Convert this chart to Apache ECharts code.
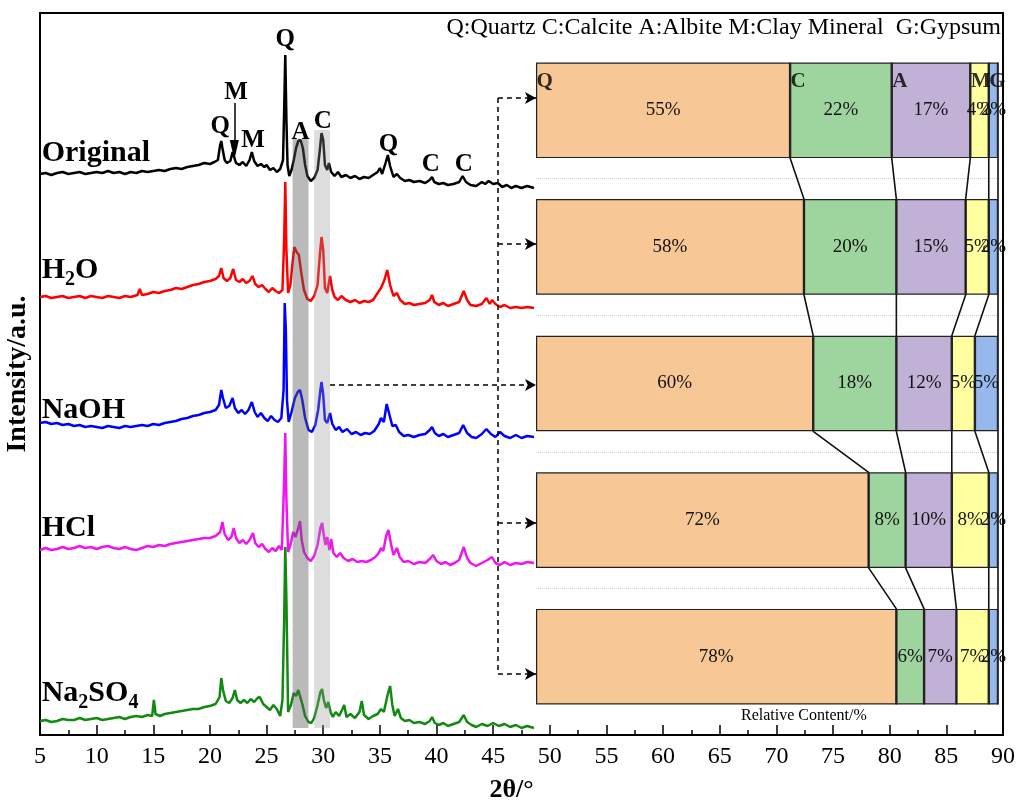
<!DOCTYPE html>
<html>
<head>
<meta charset="utf-8">
<script src="https://cdn.jsdelivr.net/npm/echarts@6/dist/echarts.min.js"></script>
<style>
html,body{margin:0;padding:0;background:#fff}
#chart{width:1020px;height:808px}
</style>
</head>
<body>
<div id="chart"></div>
<script>
// ---------- XRD patterns (2θ in degrees, intensity in a.u. before stacking offset) ----------
const xrdOriginal = [[5.0,21],[5.5,22],[6.0,20],[6.5,22],[7.0,23],[7.5,21],[8.0,22],[8.5,23],[9.0,21],[9.5,22],[10,23],[10.5,22],[11,24],[11.5,22],[12,23],[12.5,21],[13,23],[13.5,22],[14,24],[14.5,23],[15,24],[15.5,25],[16,24],[16.5,26],[17,27],[17.5,26],[18,28],[18.5,29],[19,30],[19.5,32],[20,31],[20.4,33],[20.7,35],[20.9,50],[21.0,54],[21.1,47],[21.3,35],[21.5,32],[21.8,34],[22.0,43],[22.1,41],[22.3,32],[22.6,30],[22.9,33],[23.2,29],[23.5,35],[23.7,43],[23.9,34],[24.2,29],[24.5,31],[24.8,28],[25.0,30],[25.3,25],[25.6,27],[25.9,23],[26.2,26],[26.45,35],[26.55,85],[26.65,140],[26.75,75],[26.85,30],[27.0,19],[27.2,25],[27.4,35],[27.6,47],[27.8,54],[28.0,55],[28.2,47],[28.4,30],[28.6,19],[28.9,14],[29.2,17],[29.5,25],[29.7,45],[29.85,62],[30.0,55],[30.15,30],[30.35,25],[30.5,32],[30.7,23],[31.0,19],[31.3,23],[31.6,18],[32.0,20],[32.4,17],[32.8,19],[33.2,16],[33.6,18],[34.0,17],[34.4,20],[34.8,23],[35.0,27],[35.2,21],[35.5,32],[35.7,40],[35.9,29],[36.2,18],[36.5,21],[36.8,17],[37.2,14],[37.6,15],[38.0,13],[38.5,14],[39.0,12],[39.4,15],[39.6,18],[39.8,13],[40.2,11],[40.6,12],[41.0,10],[41.5,11],[42.0,13],[42.3,19],[42.6,13],[43.0,10],[43.5,9],[44.0,13],[44.3,11],[44.6,14],[45.0,11],[45.4,12],[45.8,8],[46.2,10],[46.6,7],[47.0,9],[47.5,7],[48.0,9],[48.6,7]];
const xrdH2O = [[5.0,18],[5.5,19],[6.0,17],[6.5,18],[7.0,19],[7.5,17],[8.0,18],[8.5,19],[9.0,17],[9.5,19],[10,18],[10.5,17],[11,19],[11.5,18],[12,17],[12.5,19],[13,18],[13.6,20],[13.8,26],[14.0,20],[14.5,21],[15,23],[15.5,22],[16,24],[16.5,25],[17,27],[17.5,26],[18,28],[18.5,30],[19,31],[19.5,33],[20.0,34],[20.5,36],[20.8,39],[21.0,47],[21.2,37],[21.5,34],[21.8,37],[22.05,46],[22.3,35],[22.6,33],[22.9,36],[23.2,32],[23.5,34],[23.75,39],[24.0,31],[24.3,28],[24.6,30],[24.9,26],[25.2,23],[25.5,27],[25.8,24],[26.1,22],[26.4,25],[26.55,75],[26.65,133],[26.75,65],[26.9,22],[27.1,30],[27.3,53],[27.45,68],[27.65,63],[27.85,60],[28.05,43],[28.3,25],[28.6,16],[28.9,14],[29.2,19],[29.5,30],[29.7,60],[29.85,78],[30.0,65],[30.15,27],[30.35,22],[30.6,39],[30.8,25],[31.0,18],[31.3,15],[31.6,19],[32.0,15],[32.4,13],[32.8,15],[33.2,12],[33.6,14],[34.0,13],[34.4,15],[34.8,22],[35.1,27],[35.4,35],[35.65,45],[35.9,30],[36.2,19],[36.5,22],[36.8,15],[37.2,11],[37.6,12],[38.0,10],[38.5,11],[39.0,12],[39.4,15],[39.6,20],[39.8,13],[40.2,10],[40.6,12],[41.0,9],[41.5,11],[42.0,13],[42.4,24],[42.7,15],[43.0,10],[43.5,9],[44.0,11],[44.4,17],[44.7,11],[44.9,15],[45.2,11],[45.6,8],[46.0,10],[46.5,7],[47.0,8],[47.5,7],[48.0,8],[48.6,7]];
const xrdNaOH = [[5.0,22],[5.5,23],[6.0,21],[6.5,22],[7.0,20],[7.5,21],[8.0,19],[8.5,20],[9.0,18],[9.5,19],[10,18],[10.5,17],[11,19],[11.5,18],[12,17],[12.5,19],[13,18],[13.5,19],[14,20],[14.5,19],[15,21],[15.5,20],[16,22],[16.5,23],[17,24],[17.5,26],[18,27],[18.5,29],[19,30],[19.5,32],[20,33],[20.5,35],[20.8,40],[21.0,55],[21.15,47],[21.4,37],[21.7,39],[22.0,47],[22.2,37],[22.5,32],[22.8,35],[23.1,31],[23.4,35],[23.7,43],[23.95,33],[24.2,28],[24.5,32],[24.8,27],[25.1,24],[25.4,29],[25.7,25],[26.0,23],[26.3,27],[26.5,55],[26.6,142],[26.7,115],[26.8,45],[26.95,23],[27.2,33],[27.5,47],[27.75,53],[27.95,55],[28.15,45],[28.4,27],[28.7,15],[29.0,13],[29.3,20],[29.55,35],[29.75,55],[29.85,63],[30.0,50],[30.15,25],[30.35,22],[30.6,32],[30.8,21],[31.1,15],[31.4,18],[31.7,13],[32.1,16],[32.5,11],[32.9,13],[33.3,10],[33.7,12],[34.1,11],[34.5,14],[34.9,21],[35.1,27],[35.35,23],[35.6,41],[35.85,30],[36.1,19],[36.4,20],[36.7,13],[37.1,9],[37.5,10],[38.0,8],[38.5,10],[39.0,11],[39.4,15],[39.6,18],[39.85,12],[40.2,9],[40.6,11],[41.0,8],[41.5,10],[42.0,12],[42.35,20],[42.7,12],[43.1,8],[43.5,7],[44.0,11],[44.4,16],[44.8,11],[45.2,8],[45.6,13],[46.0,9],[46.5,7],[47.0,10],[47.5,7],[48.0,9],[48.6,8]];
const xrdHCl = [[5.0,25],[5.5,27],[6.0,25],[6.5,26],[7.0,28],[7.5,26],[8.0,27],[8.5,29],[9.0,27],[9.5,28],[10,26],[10.5,28],[11,29],[11.5,27],[12,26],[12.5,28],[13,26],[13.5,25],[14,27],[14.5,29],[15,28],[15.5,30],[16,29],[16.5,31],[17,32],[17.5,33],[18,34],[18.5,35],[19,36],[19.5,37],[20,37],[20.5,39],[20.9,43],[21.1,53],[21.3,41],[21.6,35],[21.9,38],[22.1,47],[22.3,37],[22.6,32],[22.9,35],[23.2,31],[23.5,35],[23.8,42],[24.0,32],[24.3,28],[24.6,31],[24.9,26],[25.2,23],[25.5,27],[25.8,24],[26.1,29],[26.35,25],[26.55,95],[26.65,142],[26.75,75],[26.9,23],[27.1,30],[27.35,43],[27.55,38],[27.8,47],[27.95,54],[28.1,35],[28.3,23],[28.6,17],[28.9,14],[29.2,19],[29.5,30],[29.75,47],[29.9,52],[30.05,40],[30.2,30],[30.35,38],[30.55,25],[30.7,36],[30.9,22],[31.2,18],[31.5,22],[31.8,17],[32.2,14],[32.6,16],[33.0,13],[33.4,14],[33.8,13],[34.2,15],[34.6,18],[34.9,22],[35.1,27],[35.3,24],[35.55,39],[35.75,45],[36.0,30],[36.2,20],[36.5,27],[36.75,18],[37.1,13],[37.5,14],[38.0,11],[38.5,13],[39.0,12],[39.4,16],[39.7,20],[40.0,14],[40.4,11],[40.8,13],[41.2,10],[41.6,12],[42.0,15],[42.4,28],[42.7,17],[43.0,12],[43.5,9],[44.0,12],[44.5,15],[44.9,18],[45.2,12],[45.6,10],[46.0,13],[46.5,10],[47.0,12],[47.5,11],[48.0,13],[48.6,12]];
const xrdNa2SO4 = [[5.0,14],[5.5,15],[6.0,13],[6.5,14],[7.0,16],[7.5,15],[8.0,15],[8.5,17],[9.0,15],[9.5,16],[10,17],[10.5,15],[11,16],[11.5,17],[12,18],[12.5,16],[13,18],[13.5,19],[14,18],[14.5,20],[14.9,19],[15.05,35],[15.2,21],[15.6,19],[16.0,21],[16.5,22],[17.0,23],[17.5,24],[18.0,25],[18.5,26],[19.0,26],[19.5,28],[20.0,29],[20.5,31],[20.85,38],[21.0,57],[21.15,45],[21.4,34],[21.7,32],[22.0,37],[22.2,45],[22.4,35],[22.7,32],[23.0,35],[23.3,32],[23.6,36],[23.9,33],[24.2,37],[24.4,38],[24.7,31],[25.0,28],[25.3,25],[25.6,30],[25.9,26],[26.2,19],[26.4,35],[26.55,115],[26.65,188],[26.75,135],[26.9,23],[27.15,30],[27.4,42],[27.6,39],[27.8,45],[27.95,43],[28.15,31],[28.4,19],[28.7,13],[28.95,12],[29.2,17],[29.5,30],[29.75,43],[29.9,46],[30.05,35],[30.25,27],[30.45,33],[30.65,23],[30.85,18],[31.1,23],[31.4,19],[31.7,26],[31.85,30],[32.05,18],[32.4,21],[32.8,17],[33.2,23],[33.4,34],[33.6,20],[34.0,16],[34.4,19],[34.8,21],[35.1,26],[35.35,23],[35.7,41],[35.9,49],[36.1,30],[36.3,19],[36.6,26],[36.85,17],[37.2,14],[37.6,15],[38.0,12],[38.5,13],[39.0,11],[39.4,14],[39.6,18],[39.85,12],[40.2,10],[40.6,12],[41.0,9],[41.5,11],[42.0,13],[42.4,20],[42.7,13],[43.1,10],[43.5,8],[44.0,11],[44.5,9],[45.0,12],[45.5,9],[46.0,11],[46.5,8],[47.0,10],[47.5,7],[48.0,9],[48.6,7]];

const sampleNames = ['Original', 'H2O', 'NaOH', 'HCl', 'Na2SO4'];
const sampleLabels = ['{b|Original}', '{b|H}{s|2}{b|O}', '{b|NaOH}', '{b|HCl}', '{b|Na}{s|2}{b|SO}{s|4}'];
const curveColors = ['#000000', '#FF0000', '#0000FF', '#F014F0', '#108A10'];
const curveOffset = [540, 420, 290, 160, 0];
const curveData = [xrdOriginal, xrdH2O, xrdNaOH, xrdHCl, xrdNa2SO4];
const nameLevel = [582, 465, 325, 207, 42];

// phase markers on the Original pattern: [2θ, level, phase]
const peakMarks = [[26.65, 695, 'Q'], [22.3, 642, 'M'], [20.9, 608, 'Q'], [23.8, 594, 'M'], [28.0, 602, 'A'], [29.95, 613, 'C'], [35.75, 590, 'Q'], [39.5, 570, 'C'], [42.4, 570, 'C']];

// ---------- phase composition (relative content, %) ----------
const phaseNames = ['Q', 'C', 'A', 'M', 'G'];
const phaseColors = ['#F8C796', '#9ED59F', '#C1B1D6', '#FFFFA0', '#96B8ED'];
const quartz = [55, 58, 60, 72, 78];
const calcite = [22, 20, 18, 8, 6];
const albite = [17, 15, 12, 10, 7];
const clay = [4, 5, 5, 8, 7];
const gypsum = [2, 2, 5, 2, 2];
const phaseValues = [quartz, calcite, albite, clay, gypsum];

const FONT = 'Liberation Serif';
const BAR_FRAC = 0.7;
const HALF = BAR_FRAC / 2;

// cumulative boundaries per sample
const cum = sampleNames.map((_, i) => {
  let s = 0;
  return phaseValues.map(v => (s += v[i]));
});

const series = [];

// stacked XRD curves
curveData.forEach((d, i) => {
  series.push({
    type: 'line', name: sampleNames[i], xAxisIndex: 0, yAxisIndex: 0,
    data: d.map(p => [p[0], p[1] + curveOffset[i]]),
    symbol: 'none', showSymbol: false, silent: true, z: 2,
    lineStyle: { color: curveColors[i], width: 2.5 },
    itemStyle: { color: curveColors[i] }
  });
});

// sample names + dashed guide arrows into the composition bars
const arrowRow = [637, 491, 350, 212, 61];
const guideX = 45.42, barStartX = 48.78;
const guideLines = [[{ coord: [guideX, arrowRow[0]], symbol: 'none' }, { coord: [guideX, arrowRow[4]], symbol: 'none' }]];
[0, 1, 3, 4].forEach(i => guideLines.push([{ coord: [guideX, arrowRow[i]] }, { coord: [barStartX, arrowRow[i]] }]));
guideLines.push([{ coord: [30.6, arrowRow[2]] }, { coord: [barStartX, arrowRow[2]] }]);

series.push({
  type: 'scatter', xAxisIndex: 0, yAxisIndex: 0, symbolSize: 1, silent: true, z: 6,
  itemStyle: { color: 'rgba(0,0,0,0)' },
  data: sampleNames.map((n, i) => ({ value: [5.15, nameLevel[i]], label: { formatter: sampleLabels[i] } })),
  label: {
    show: true, position: 'inside', align: 'left', verticalAlign: 'middle', color: '#000', opacity: 1,
    rich: {
      b: { fontFamily: FONT, fontSize: 30, fontWeight: 'bold', color: '#000' },
      s: { fontFamily: FONT, fontSize: 20, fontWeight: 'bold', color: '#000', padding: [20, 0, 0, 0] }
    }
  },
  markLine: {
    silent: true, animation: false, symbol: ['none', 'arrow'], symbolSize: [9, 11],
    lineStyle: { color: '#000', type: [5, 4], width: 1.5 },
    label: { show: false }, emphasis: { disabled: true },
    data: guideLines
  }
});

// peak letters, highlighted reflection bands and the clay-mineral pointer
series.push({
  type: 'scatter', xAxisIndex: 0, yAxisIndex: 0, symbolSize: 1, silent: true, z: 6,
  itemStyle: { color: 'rgba(0,0,0,0)' },
  data: peakMarks.map(m => ({ value: [m[0], m[1]], name: m[2] })),
  label: { show: true, formatter: '{b}', position: 'inside', fontFamily: FONT, fontSize: 25, fontWeight: 'bold', color: '#000', opacity: 1 },
  markArea: {
    z: 4, silent: true, animation: false,
    data: [
      [{ coord: [27.3, 7], itemStyle: { color: 'rgba(90,90,90,0.42)' } }, { coord: [28.7, 596] }],
      [{ coord: [29.2, 7], itemStyle: { color: 'rgba(150,150,150,0.32)' } }, { coord: [30.6, 605] }]
    ]
  },
  markLine: {
    silent: true, animation: false, symbol: ['none', 'triangle'], symbolSize: [9, 20],
    lineStyle: { color: '#000', type: 'solid', width: 1.5 },
    label: { show: false }, emphasis: { disabled: true },
    data: [[{ coord: [22.15, 632] }, { coord: [22.15, 585] }]]
  }
});

// composition bars
phaseValues.forEach((vals, k) => {
  series.push({
    type: 'bar', name: phaseNames[k], stack: 'comp', xAxisIndex: 1, yAxisIndex: 1,
    barWidth: (BAR_FRAC * 100) + '%', data: vals, z: 3, silent: true,
    itemStyle: { color: phaseColors[k], borderColor: '#222', borderWidth: 1.2 },
    label: { show: true, position: 'inside', formatter: p => p.value + '%', fontFamily: FONT, fontSize: 19, color: '#111' }
  });
});

// connectors between phase boundaries of consecutive samples
for (let k = 0; k < phaseNames.length; k++) {
  series.push({
    type: 'line', xAxisIndex: 1, yAxisIndex: 2, symbol: 'none', silent: true, z: 1,
    lineStyle: { color: '#111', width: 1.6 },
    data: sampleNames.flatMap((_, i) => [[cum[i][k], i + 0.5 - HALF], [cum[i][k], i + 0.5 + HALF]])
  });
}

// phase initials on the first bar
series.push({
  type: 'scatter', xAxisIndex: 1, yAxisIndex: 2, symbolSize: 1, silent: true, z: 5,
  itemStyle: { color: 'rgba(0,0,0,0)' },
  data: phaseNames.map((n, k) => ({ value: [k === 0 ? 0 : cum[0][k - 1], 0.5 - HALF], name: n })),
  label: { show: true, formatter: '{b}', position: [1, 9], align: 'left', verticalAlign: 'top', fontFamily: FONT, fontSize: 21, fontWeight: 'bold', color: '#000' }
});

const option = {
  animation: false,
  backgroundColor: '#fff',
  title: [
    { text: 'Q:Quartz C:Calcite A:Albite M:Clay Mineral  G:Gypsum', right: 19, top: 16, padding: 0,
      textStyle: { fontFamily: FONT, fontSize: 24, fontWeight: 'normal', color: '#000' } },
    { text: 'Relative Content/%', left: 741, top: 708, padding: 0,
      textStyle: { fontFamily: FONT, fontSize: 16, fontWeight: 'normal', color: '#000' } }
  ],
  grid: [
    { left: 40, right: 17, top: 13, bottom: 73, show: true, borderColor: '#000', borderWidth: 2, outerBoundsMode: 'none' },
    { left: 536, right: 22, top: 42, bottom: 83, outerBoundsMode: 'none' }
  ],
  xAxis: [
    {
      gridIndex: 0, type: 'value', min: 5, max: 90, interval: 5,
      axisLine: { lineStyle: { color: '#000', width: 2 } },
      axisTick: { inside: true, length: 10, lineStyle: { color: '#000', width: 1.5 } },
      minorTick: { show: true, splitNumber: 2, length: 5, lineStyle: { color: '#000', width: 1.5 } },
      axisLabel: { color: '#000', fontFamily: FONT, fontSize: 24, margin: 10 },
      splitLine: { show: false },
      name: '2θ/°', nameLocation: 'middle', nameGap: 42,
      nameTextStyle: { fontFamily: FONT, fontSize: 26, fontWeight: 'bold', color: '#000', padding: [0, 20, 0, 0] }
    },
    { gridIndex: 1, type: 'value', min: 0, max: 100, show: false }
  ],
  yAxis: [
    {
      gridIndex: 0, type: 'value', min: 0, max: 722,
      axisLine: { show: true, lineStyle: { color: '#000', width: 2 } },
      axisTick: { show: false }, axisLabel: { show: false }, splitLine: { show: false },
      name: 'Intensity/a.u.', nameLocation: 'middle', nameGap: 8, nameRotate: 90,
      nameTextStyle: { fontFamily: FONT, fontSize: 28, fontWeight: 'bold', color: '#000' }
    },
    {
      gridIndex: 1, type: 'category', data: sampleNames, inverse: true,
      axisLine: { show: false }, axisTick: { show: false }, axisLabel: { show: false },
      splitLine: { show: true, showMinLine: false, showMaxLine: false, lineStyle: { color: '#cfcfcf', type: 'dotted', width: 1 } }
    },
    { gridIndex: 1, type: 'value', min: 0, max: 5, inverse: true, show: false }
  ],
  series: series
};

const chart = echarts.init(document.getElementById('chart'), null, { renderer: 'canvas' });
chart.setOption(option);
</script>
</body>
</html>
